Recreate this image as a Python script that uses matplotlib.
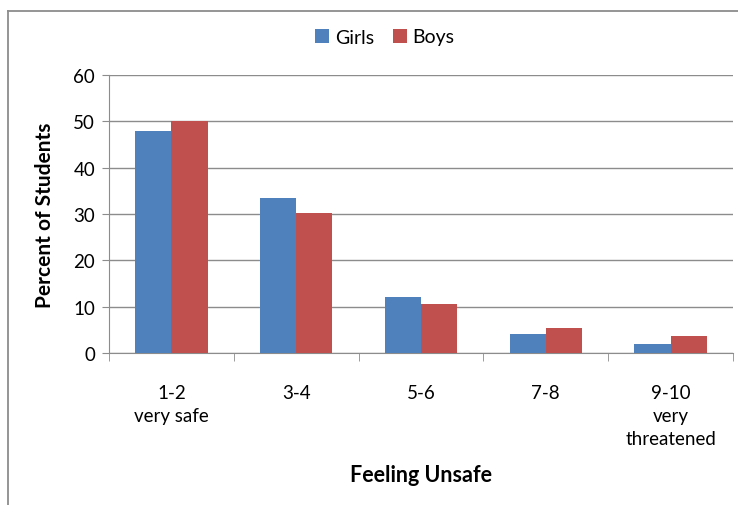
import matplotlib.pyplot as plt
import numpy as np
from matplotlib.lines import Line2D

# Dados
categorias = ['1-2\nvery safe', '3-4', '5-6', '7-8', '9-10\nvery\nthreatened']
meninas = [48.0, 33.5, 12.0, 4.2, 1.9]
meninos = [50.0, 30.3, 10.5, 5.3, 3.6]

plt.rcParams['font.family'] = ['Lato', 'DejaVu Sans']

fig = plt.figure(figsize=(7.38, 5.06), dpi=100)
ax = fig.add_axes([109 / 738, 1 - 354 / 506, 624 / 738, 278 / 506])

# Moldura externa (só esquerda e topo aparecem no original)
xb, yb = 7.5 / 738, 1 - 11.5 / 506
fig.add_artist(Line2D([xb, xb], [0, yb], transform=fig.transFigure, color='#8c8c8c', lw=1.3))
fig.add_artist(Line2D([xb, 1], [yb, yb], transform=fig.transFigure, color='#8c8c8c', lw=1.3))

x = np.arange(len(categorias))
largura = 0.29
ax.bar(x - largura / 2, meninas, largura, color='#4F81BD', label='Girls', zorder=3)
ax.bar(x + largura / 2, meninos, largura, color='#C0504D', label='Boys', zorder=3)

ax.set_xlim(-0.5, len(categorias) - 0.5)
ax.set_ylim(0, 60)
ax.set_yticks(range(0, 61, 10))
ax.yaxis.grid(True, color='#8c8c8c', lw=1, zorder=0)

ax.set_xticks(x)
ax.set_xticklabels(categorias, fontsize=13.5, linespacing=1.45)
ax.set_xticks(np.arange(-0.5, len(categorias)), minor=True)
ax.tick_params(axis='x', which='major', length=0, pad=22)
ax.tick_params(axis='x', which='minor', length=6, color='#8c8c8c', direction='out')
ax.tick_params(axis='y', length=5, color='#8c8c8c', labelsize=13.5, pad=5)

for lado in ['top', 'right']:
    ax.spines[lado].set_visible(False)
for lado in ['left', 'bottom']:
    ax.spines[lado].set_color('#8c8c8c')

ax.set_ylabel('Percent of Students', fontsize=15, fontweight='bold', labelpad=13)
ax.set_xlabel('Feeling Unsafe', fontsize=15.5, fontweight='bold', labelpad=12)

fig.legend(loc='center', bbox_to_anchor=(385 / 738, 1 - 38 / 506), ncol=2, frameon=False,
           fontsize=14, handlelength=0.7, handleheight=0.7, handletextpad=0.3, columnspacing=1.0)

plt.savefig('out.png', dpi=100)
